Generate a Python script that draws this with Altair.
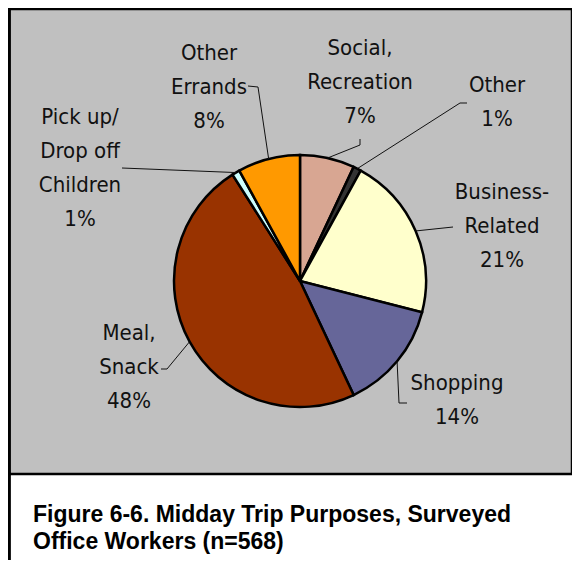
import math
import altair as alt
import pandas as pd

# ---- data ----
categories = ["Social, Recreation", "Other", "Business-Related", "Shopping",
              "Meal, Snack", "Pick up/ Drop off Children", "Other Errands"]
label_lines = [["Social,", "Recreation"], ["Other"], ["Business-", "Related"],
               ["Shopping"], ["Meal,", "Snack"], ["Pick up/", "Drop off", "Children"],
               ["Other", "Errands"]]
shares = [7, 1, 21, 14, 48, 1, 8]
colors = ["#D8A692", "#333333", "#FFFFCC", "#666699", "#993300", "#CCFFFF", "#FF9900"]
title_lines = ["Figure 6-6. Midday Trip Purposes, Surveyed", "Office Workers (n=568)"]

# ---- layout (pixel units around the pie centre, y up) ----
R = 126
label_pos = [(60, 233), (197, 196), (202, 89), (157, -102),
             (-171, -52), (-220, 164), (-91, 228)]
leader_elbows = [[(60, 142), (60, 136)], [(167, 178), (160, 178)], [(153, 54)],
                 [(107, -122), (99, -122)], [(-139, -88), (-133, -88)],
                 [(-178, 113)], [(-52, 195), (-42, 194)]]

FONT = "Liberation Sans Narrow, Arial Narrow, DejaVu Sans Condensed, sans-serif"

pie_df = pd.DataFrame({"cat": categories, "share": shares, "idx": range(len(shares))})

lab_rows = []
line_rows = []
cum = 0
for i, (c, s) in enumerate(zip(categories, shares)):
    mid = (cum + s / 2) / 100 * 2 * math.pi
    cum += s
    text = "\n".join(label_lines[i] + [f"{s}%"])
    lab_rows.append({"cat": c, "x": label_pos[i][0], "y": label_pos[i][1], "text": text})
    pts = leader_elbows[i] + [(R * math.sin(mid), R * math.cos(mid))]
    for k, (px, py) in enumerate(pts):
        line_rows.append({"cat": c, "k": k, "x": px, "y": py})
lab_df = pd.DataFrame(lab_rows)
line_df = pd.DataFrame(line_rows)
title_df = pd.DataFrame({"t": ["\n".join(title_lines)]})

xs = alt.Scale(domain=[-291, 272], nice=False, zero=False)
ys = alt.Scale(domain=[-193, 272], nice=False, zero=False)

pie = alt.Chart(pie_df).mark_arc(outerRadius=R, stroke="black", strokeWidth=2.5).encode(
    theta=alt.Theta("share:Q", stack=True),
    order=alt.Order("idx:Q"),
    color=alt.Color("cat:N", scale=alt.Scale(domain=categories, range=colors), legend=None),
    x=alt.X(datum=0, type="quantitative", scale=xs, axis=None),
    y=alt.Y(datum=0, type="quantitative", scale=ys, axis=None),
)

leaders = alt.Chart(line_df).mark_line(color="#111111", strokeWidth=1).encode(
    x=alt.X("x:Q", scale=xs, axis=None),
    y=alt.Y("y:Q", scale=ys, axis=None),
    detail="cat:N",
    order="k:Q",
)

labels = alt.Chart(lab_df).mark_text(
    font=FONT, fontSize=22, lineBreak="\n", lineHeight=34,
    align="center", baseline="middle", color="#111111"
).encode(
    x=alt.X("x:Q", scale=xs, axis=None),
    y=alt.Y("y:Q", scale=ys, axis=None),
    text="text:N",
)

title = alt.Chart(title_df).mark_text(
    font="Liberation Sans, Arial, sans-serif", fontSize=23, fontWeight="bold",
    lineBreak="\n", lineHeight=27, align="left", baseline="middle", color="#000000"
).encode(x=alt.value(24), y=alt.value(506), text="t:N")

frame = alt.Chart(pie_df).mark_rule(color="black", strokeWidth=2.5).encode(
    x=alt.value(0), y=alt.value(0), y2=alt.value(551)
)

chart = alt.layer(pie, leaders, labels, title, frame).properties(
    width=563, height=465,
    autosize=alt.AutoSizeParams(type="none"),
    padding={"left": 1, "top": 1, "right": 0, "bottom": 86},
).configure_view(fill="#C0C0C0", stroke="black", strokeWidth=2.5)

chart.save("out.html", embed_options={"renderer": "svg", "actions": False})
